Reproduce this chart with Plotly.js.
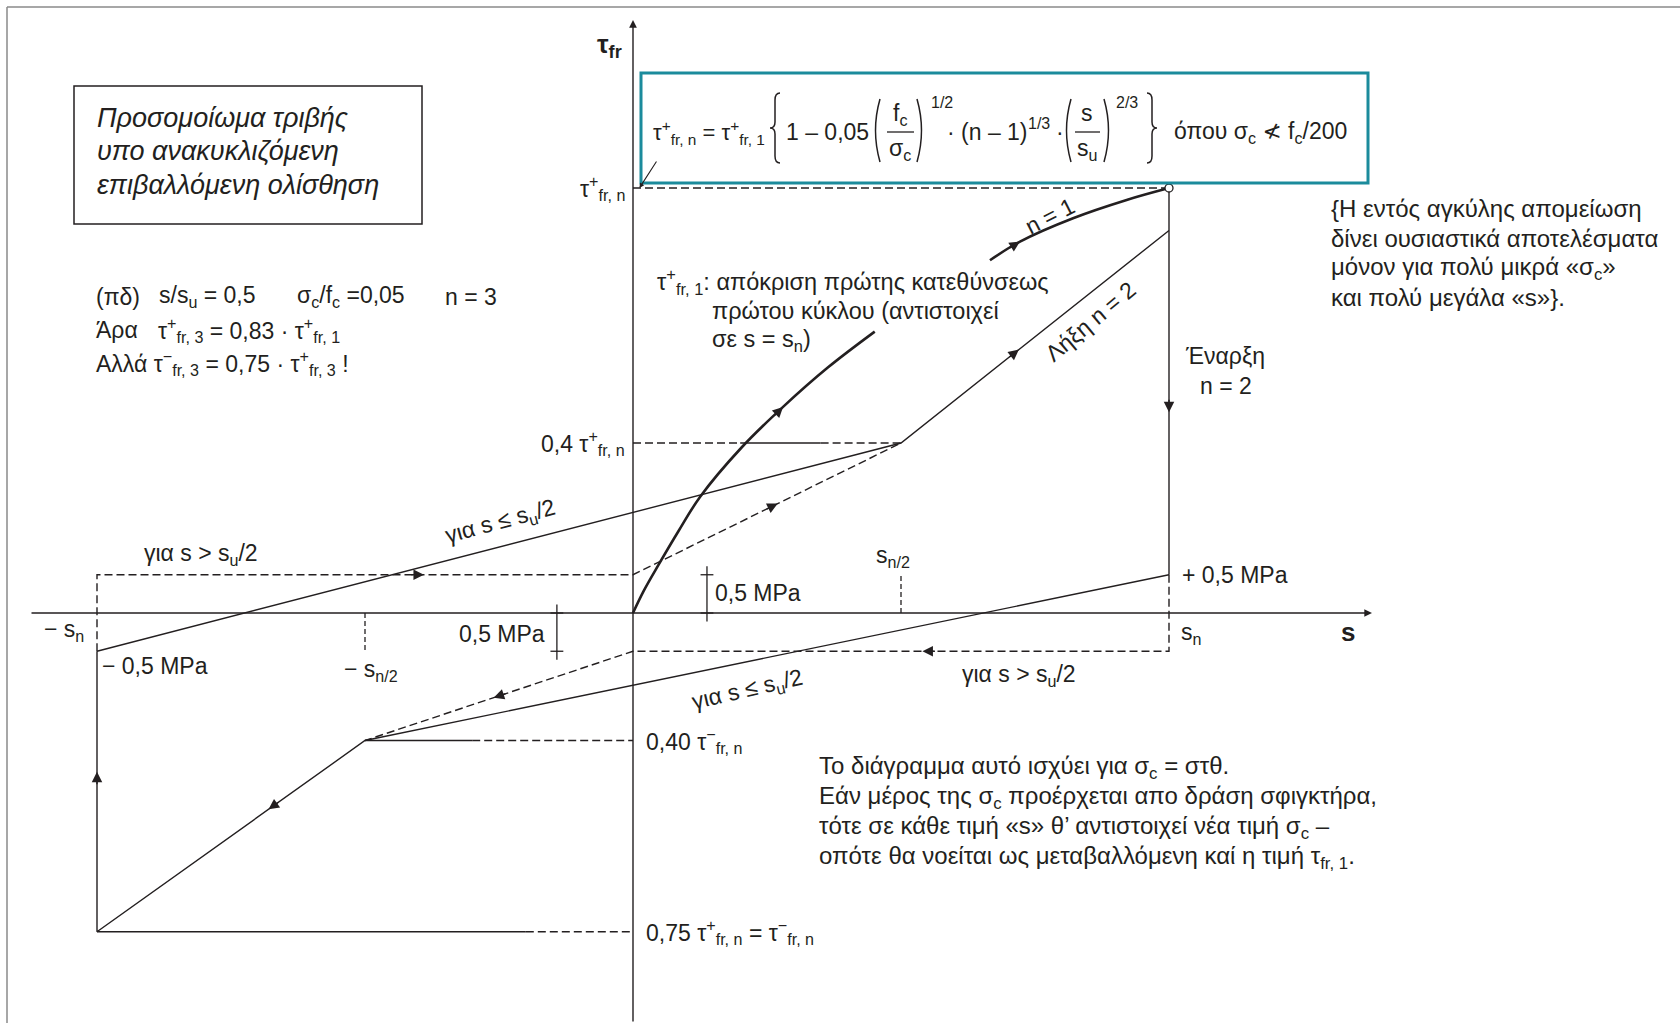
<!DOCTYPE html>
<html>
<head>
<meta charset="utf-8">
<script src="https://cdn.plot.ly/plotly-3.0.1.min.js"></script>
<style>
  html, body { margin: 0; padding: 0; background: #ffffff; }
  #plot { width: 1680px; height: 1023px; }
</style>
</head>
<body>
<div id="plot"></div>
<script>
// Slip s in units of s_n, friction stress τ in units of τ+fr,n
const S_N = 1.0;          // s_n
const S_HALF = 0.5;       // s_n/2
const TAU_TOP = 1.0;      // τ+fr,n
const TAU_04 = 0.4;       // 0,4 τ+fr,n
const TAU_NEG = -0.75;    // τ−fr,n = 0,75 τ+fr,n
const TAU_NEG04 = -0.30;  // 0,40 τ−fr,n
const MPA = 0.09;         // 0,5 MPa expressed in τ+fr,n
const TAU_END2 = 0.9;     // end of reloading n = 2 at s = s_n

// first-direction response, cycle n = 1 (interrupted by the caption)
const n1S_a = [0, 0.02, 0.047, 0.085, 0.125, 0.203, 0.28, 0.364, 0.451];
const n1T_a = [0, 0.052, 0.112, 0.193, 0.273, 0.39, 0.485, 0.578, 0.662];
const n1S_b = [0.666, 0.722, 0.821, 0.921, 1.0];
const n1T_b = [0.83, 0.874, 0.929, 0.972, 1.0];

// loading paths of the following cycles
const upSolidS = [-S_N, S_HALF, S_N];
const upSolidT = [-MPA, TAU_04, TAU_END2];
const upDashS = [-S_N, -S_N, 0, S_HALF];
const upDashT = [-MPA, MPA, MPA, TAU_04];
const unloadS = [S_N, S_N];
const unloadT = [TAU_TOP, MPA];
const downSolidS = [S_N, -S_HALF, -S_N, -S_N];
const downSolidT = [MPA, TAU_NEG04, TAU_NEG, -MPA];
const downDashS = [S_N, S_N, 0, -S_HALF];
const downDashT = [MPA, -MPA, -MPA, TAU_NEG04];

// drawing frame
const W = 1680, H = 1023;
const X0 = 633, Y0 = 613, PX_X = 536, PX_Y = 425;
const xRange = [-X0 / PX_X, (W - X0) / PX_X];
const yRange = [-(H - Y0) / PX_Y, Y0 / PX_Y];
const INK = '#231f20';
const FONT = 'Liberation Sans, Arial, Helvetica, sans-serif';
const DASH = '8px,4px';
const AX_LEFT = (30 - X0) / PX_X, AX_RIGHT = (1372 - X0) / PX_X;
const AY_BOTTOM = yRange[0], AY_TOP = (Y0 - 20) / PX_Y;
const DIM_POS = 0.138, DIM_NEG = -0.142;

const px = v => v / W;
const py = v => 1 - v / H;
const pp = (x, y) => px(x) + ',' + py(y);

function line(xs, ys, width, dash, shape) {
  return { type: 'scatter', mode: 'lines', x: xs, y: ys, hoverinfo: 'skip', showlegend: false,
           line: { color: INK, width: width || 1.4, dash: dash || 'solid', shape: shape || 'linear' } };
}

const traces = [
  line(n1S_a, n1T_a, 2.6, 'solid', 'spline'),
  line(n1S_b, n1T_b, 2.6, 'solid', 'spline'),
  line(upSolidS, upSolidT),
  line(upDashS, upDashT, 1.4, DASH),
  line(unloadS, unloadT),
  line(downSolidS, downSolidT),
  line(downDashS, downDashT, 1.4, DASH),
  // guide lines
  line([0, S_N], [TAU_TOP, TAU_TOP], 1.3, DASH),
  line([0, 0.2], [TAU_04, TAU_04], 1.3, DASH),
  line([0.2, 0.35], [TAU_04, TAU_04], 1.3),
  line([0.35, S_HALF], [TAU_04, TAU_04], 1.3, DASH),
  line([-S_HALF, -0.3], [TAU_NEG04, TAU_NEG04], 1.3),
  line([-0.3, 0], [TAU_NEG04, TAU_NEG04], 1.3, DASH),
  line([-S_N, -0.2], [TAU_NEG, TAU_NEG], 1.3),
  line([-0.2, 0], [TAU_NEG, TAU_NEG], 1.3, DASH),
  line([S_HALF, S_HALF], [0, MPA], 1.3, '5px,3px'),
  line([-S_HALF, -S_HALF], [0, -MPA], 1.3, '5px,3px'),
  // 0,5 MPa dimension marks
  line([DIM_POS, DIM_POS, null, DIM_POS - 0.012, DIM_POS + 0.012, null, DIM_POS - 0.012, DIM_POS + 0.012],
       [-0.02, MPA + 0.02, null, 0, 0, null, MPA, MPA], 1.3),
  line([DIM_NEG, DIM_NEG, null, DIM_NEG - 0.012, DIM_NEG + 0.012, null, DIM_NEG - 0.012, DIM_NEG + 0.012],
       [0.02, -MPA - 0.02, null, 0, 0, null, -MPA, -MPA], 1.3),
  // peak of the first cycle
  { type: 'scatter', mode: 'markers', x: [S_N], y: [TAU_TOP], hoverinfo: 'skip', showlegend: false,
    marker: { symbol: 'circle', size: 8, color: '#ffffff', line: { color: INK, width: 1.3 } } }
];

// arrowhead placed along segment i of a path, at fraction f
function arrowOn(xs, ys, i, f) {
  const x = xs[i] + (xs[i + 1] - xs[i]) * f;
  const y = ys[i] + (ys[i + 1] - ys[i]) * f;
  const dx = (xs[i + 1] - xs[i]) * PX_X, dy = -(ys[i + 1] - ys[i]) * PX_Y;
  const L = Math.hypot(dx, dy);
  return { x: x, y: y, xref: 'x', yref: 'y', ax: -dx / L * 14, ay: -dy / L * 14,
           showarrow: true, arrowhead: 2, arrowsize: 1.5, arrowwidth: 1.4, arrowcolor: INK, text: '' };
}

function txt(text, x, y, o) {
  o = o || {};
  return { xref: 'paper', yref: 'paper', x: px(x), y: py(y), text: text, showarrow: false,
           xanchor: o.xa || 'left', yanchor: o.ya || 'middle', textangle: o.angle || 0,
           font: { family: FONT, size: o.size || 23, color: INK } };
}
function txtY(text, x, yData, o) {
  const a = txt(text, x, 0, o);
  a.yref = 'y'; a.y = yData;
  return a;
}

const TP = 'τ<sup>+</sup><sub>fr, n</sub>';
const TM = 'τ<sup>−</sup><sub>fr, n</sub>';
const NOT_LESS = '<span style="font-family:DejaVu Sans">≮</span>';

const annotations = [
  // axes with arrowheads
  { x: AX_RIGHT, y: 0, xref: 'x', yref: 'y', ax: AX_LEFT, ay: 0, axref: 'x', ayref: 'y', text: '',
    showarrow: true, arrowhead: 2, arrowsize: 1.1, arrowwidth: 1.4, arrowcolor: INK },
  { x: 0, y: AY_TOP, xref: 'x', yref: 'y', ax: 0, ay: AY_BOTTOM, axref: 'x', ayref: 'y', text: '',
    showarrow: true, arrowhead: 2, arrowsize: 1.1, arrowwidth: 1.4, arrowcolor: INK },
  // pointer from the formula to τ+fr,n
  { x: 0.012, y: TAU_TOP, xref: 'x', yref: 'y', ax: 18, ay: -28, text: '',
    showarrow: true, arrowhead: 2, arrowsize: 0.9, arrowwidth: 1.1, arrowcolor: INK },

  // direction arrows
  arrowOn(n1S_a, n1T_a, 5, 1),
  arrowOn(n1S_b, n1T_b, 0, 1),
  arrowOn(upSolidS, upSolidT, 1, 0.44),
  arrowOn(upDashS, upDashT, 2, 0.54),
  arrowOn(upDashS, upDashT, 1, 0.61),
  arrowOn(unloadS, unloadT, 0, 0.58),
  arrowOn(downDashS, downDashT, 1, 0.46),
  arrowOn(downDashS, downDashT, 2, 0.52),
  arrowOn(downSolidS, downSolidT, 1, 0.36),
  arrowOn(downSolidS, downSolidT, 2, 0.57),

  // axis titles
  txt('<b>τ<sub>fr</sub></b>', 609, 46, { xa: 'center', size: 26 }),
  txt('<b>s</b>', 1348, 632, { xa: 'center', size: 26 }),

  // title box
  txt('<i>Προσομοίωμα τριβής</i>', 95, 118, { size: 27 }),
  txt('<i>υπο ανακυκλιζόμενη</i>', 95, 151, { size: 27 }),
  txt('<i>επιβαλλόμενη ολίσθηση</i>', 95, 185, { size: 27 }),

  // worked example
  txt('(πδ)', 94, 297),
  txt('s/s<sub>u</sub> = 0,5', 157, 297),
  txt('σ<sub>c</sub>/f<sub>c</sub> =0,05', 295, 297),
  txt('n = 3', 443, 297),
  txt('Άρα', 94, 330),
  txt('τ<sup>+</sup><sub>fr, 3</sub> = 0,83 · τ<sup>+</sup><sub>fr, 1</sub>', 156, 330),
  txt('Αλλά τ<sup>−</sup><sub>fr, 3</sub> = 0,75 · τ<sup>+</sup><sub>fr, 3</sub> !', 94, 363),

  // formula
  txt('τ<sup>+</sup><sub>fr, n</sub> = τ<sup>+</sup><sub>fr, 1</sub>', 651, 132, { size: 22 }),
  txt('1 – 0,05', 784, 132),
  txt('f<sub>c</sub>', 900, 114, { xa: 'center' }),
  txt('σ<sub>c</sub>', 900, 150, { xa: 'center' }),
  txt('1/2', 929, 102, { size: 16 }),
  txt('· (n – 1)', 945, 132),
  txt('1/3', 1026, 123, { size: 16 }),
  txt('·', 1054, 132),
  txt('s', 1087, 113, { xa: 'center' }),
  txt('s<sub>u</sub>', 1087, 150, { xa: 'center' }),
  txt('2/3', 1114, 102, { size: 16 }),
  txt('όπου σ<sub>c</sub> ' + NOT_LESS + ' f<sub>c</sub>/200', 1172, 132),

  // note on the bracket
  txt('{Η εντός αγκύλης απομείωση', 1329, 208, { size: 24 }),
  txt('δίνει ουσιαστικά αποτελέσματα', 1329, 238, { size: 24 }),
  txt('μόνον για πολύ μικρά «σ<sub>c</sub>»', 1329, 268, { size: 24 }),
  txt('και πολύ μεγάλα «s»}.', 1329, 298, { size: 24 }),

  // caption of the first branch
  txt('τ<sup>+</sup><sub>fr, 1</sub>: απόκριση πρώτης κατεθύνσεως', 655, 281, { size: 23.5 }),
  txt('πρώτου κύκλου (αντιστοιχεί', 710, 311, { size: 23.5 }),
  txt('σε s = s<sub>n</sub>)', 710, 341, { size: 23.5 }),

  // path labels
  txt('n = 1', 1050, 216, { xa: 'center', angle: -27 }),
  txt('Λήξη n = 2', 1090, 322, { xa: 'center', angle: -40 }),
  txt('Έναρξη', 1183, 356),
  txt('n = 2', 1198, 386),
  txt('για s ≤ s<sub>u</sub>/2', 500, 522, { xa: 'center', angle: -15 }),
  txt('για s > s<sub>u</sub>/2', 142, 554),
  txt('για s ≤ s<sub>u</sub>/2', 747, 690, { xa: 'center', angle: -13 }),
  txt('για s > s<sub>u</sub>/2', 960, 675),

  // stress levels
  txtY(TP, 627, TAU_TOP, { xa: 'right' }),
  txtY('0,4 ' + TP, 627, TAU_04, { xa: 'right' }),
  txtY('0,40 ' + TM, 644, TAU_NEG04, {}),
  txtY('0,75 ' + TP + ' = ' + TM, 644, TAU_NEG, {}),
  txtY('+ 0,5 MPa', 1180, MPA, {}),
  txt('− 0,5 MPa', 100, 666),
  txt('0,5 MPa', 713, 593),
  txt('0,5 MPa', 547, 634, { xa: 'right' }),

  // slip levels
  txt('s<sub>n/2</sub>', 893, 556, { xa: 'center' }),
  txt('− s<sub>n/2</sub>', 371, 670, { xa: 'center' }),
  txt('− s<sub>n</sub>', 64, 630, { xa: 'center' }),
  txt('s<sub>n</sub>', 1179, 633),

  // validity note
  txt('Το διάγραμμα αυτό ισχύει για σ<sub>c</sub> = στθ.', 817, 767, { size: 24 }),
  txt('Εάν μέρος της σ<sub>c</sub> προέρχεται απο δράση σφιγκτήρα,', 817, 797, { size: 24 }),
  txt('τότε σε κάθε τιμή «s» θ’ αντιστοιχεί νέα τιμή σ<sub>c</sub> –', 817, 827, { size: 24 }),
  txt('οπότε θα νοείται ως μεταβαλλόμενη καί η τιμή τ<sub>fr, 1</sub>.', 817, 857, { size: 24 })
];

// brackets, parentheses and fraction bars of the formula
function parenL(c, y1, y2) { const m = (y1 + y2) / 2; return 'M' + pp(c + 4, y1) + ' Q' + pp(c - 5, m) + ' ' + pp(c + 4, y2); }
function parenR(c, y1, y2) { const m = (y1 + y2) / 2; return 'M' + pp(c - 4, y1) + ' Q' + pp(c + 5, m) + ' ' + pp(c - 4, y2); }
function braceL(c, y1, y2) {
  const m = (y1 + y2) / 2;
  return 'M' + pp(c + 5, y1) + ' Q' + pp(c, y1) + ' ' + pp(c, y1 + 7) + ' L' + pp(c, m - 6) +
         ' Q' + pp(c, m) + ' ' + pp(c - 5, m) + ' Q' + pp(c, m) + ' ' + pp(c, m + 6) +
         ' L' + pp(c, y2 - 7) + ' Q' + pp(c, y2) + ' ' + pp(c + 5, y2);
}
function braceR(c, y1, y2) {
  const m = (y1 + y2) / 2;
  return 'M' + pp(c - 5, y1) + ' Q' + pp(c, y1) + ' ' + pp(c, y1 + 7) + ' L' + pp(c, m - 6) +
         ' Q' + pp(c, m) + ' ' + pp(c + 5, m) + ' Q' + pp(c, m) + ' ' + pp(c, m + 6) +
         ' L' + pp(c, y2 - 7) + ' Q' + pp(c, y2) + ' ' + pp(c - 5, y2);
}
const pathShape = d => ({ type: 'path', xref: 'paper', yref: 'paper', path: d, line: { color: INK, width: 1.5 } });
const pxLine = (x1, y1, x2, y2, color, width) => ({ type: 'line', xref: 'paper', yref: 'paper',
  x0: px(x1), y0: py(y1), x1: px(x2), y1: py(y2), line: { color: color, width: width } });

const shapes = [
  // page frame
  pxLine(7, 7, W, 7, '#8a8a8a', 1.5),
  pxLine(7, 7, 7, H, '#8a8a8a', 1.5),
  // title box
  { type: 'rect', xref: 'paper', yref: 'paper', x0: px(74), y0: py(86), x1: px(422), y1: py(224),
    line: { color: INK, width: 1.5 }, fillcolor: 'rgba(0,0,0,0)' },
  // formula box
  { type: 'rect', xref: 'paper', yref: 'paper', x0: px(641), y0: py(73), x1: px(1368), y1: py(183),
    line: { color: '#1b8b9c', width: 3 }, fillcolor: 'rgba(0,0,0,0)' },
  pathShape(braceL(775, 93, 163)),
  pathShape(braceR(1152, 93, 163)),
  pathShape(parenL(876, 99, 162)),
  pathShape(parenR(921, 99, 162)),
  pathShape(parenL(1067, 99, 162)),
  pathShape(parenR(1108, 99, 162)),
  pxLine(887, 132, 914, 132, INK, 1.3),
  pxLine(1075, 132, 1100, 132, INK, 1.3)
];

const layout = {
  width: W, height: H, autosize: false,
  margin: { l: 0, r: 0, t: 0, b: 0, pad: 0 },
  paper_bgcolor: '#ffffff', plot_bgcolor: '#ffffff',
  xaxis: { range: xRange, visible: false, fixedrange: true },
  yaxis: { range: yRange, visible: false, fixedrange: true },
  showlegend: false,
  annotations: annotations,
  shapes: shapes
};

Plotly.newPlot('plot', traces, layout, { displayModeBar: false, staticPlot: true });
</script>
</body>
</html>
